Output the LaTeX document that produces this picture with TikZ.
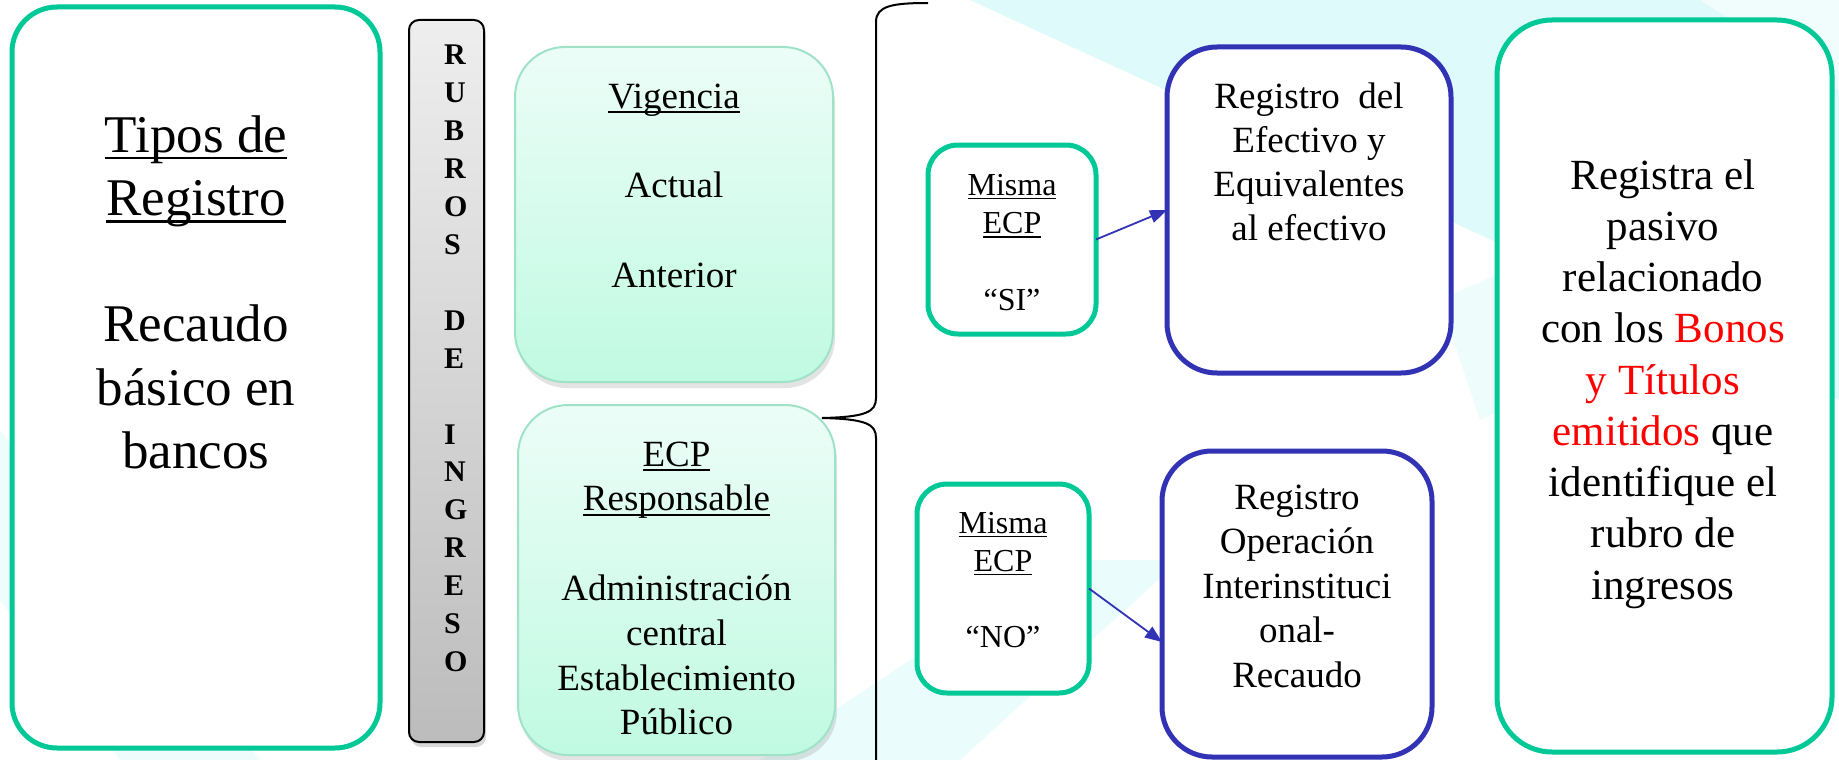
\documentclass[tikz,border=0pt]{standalone}
\usepackage{fontspec}
\setmainfont{Liberation Serif}
\usetikzlibrary{arrows.meta,shadows,calc}
\definecolor{grn}{RGB}{0,200,150}
\definecolor{blu}{RGB}{50,50,180}
\definecolor{minttop}{RGB}{236,253,247}
\definecolor{mintbot}{RGB}{192,250,226}
\definecolor{mintline}{RGB}{160,226,200}
\definecolor{bgcyan}{RGB}{222,250,250}
\definecolor{bartop}{RGB}{238,238,238}
\definecolor{barbot}{RGB}{188,188,188}
\newcommand\ul[1]{\setbox0\hbox{#1}\rlap{\rule[-0.14em]{\wd0}{0.05em}}\box0}
\newcommand\fsz[2]{\fontsize{#1pt}{#2pt}\selectfont}
\tikzset{
  box/.style={rectangle, inner sep=0pt, outer sep=0pt},
  greenbox/.style={box, draw=grn, line width=5pt, fill=white, rounded corners=#1},
  greenbox/.default=40pt,
  bluebox/.style={box, draw=blu, line width=5pt, fill=white, rounded corners=50pt},
  mintbox/.style={box, draw=mintline, line width=2pt, top color=minttop, bottom color=mintbot,
     rounded corners=50pt, drop shadow={shadow xshift=2pt, shadow yshift=-6pt, opacity=0.22}},
  graybar/.style={box, draw=black, line width=2pt, top color=bartop, bottom color=barbot,
     rounded corners=10pt, drop shadow={shadow xshift=2pt, shadow yshift=-5pt, opacity=0.3}},
  txt/.style={anchor=base, inner sep=0pt, font=\fsz{#1}{#1}},
  bartxt/.style={anchor=base west, inner sep=0pt, font=\fsz{30}{30}\bfseries},
  arr/.style={draw=blu, line width=1.8pt, -{Triangle[length=17pt,width=13pt]}},
  brace/.style={draw=black, line width=2pt}
}
\begin{document}
\begin{tikzpicture}[x=1pt,y=-1pt]
\useasboundingbox (0,0) rectangle (1839,760);
% background
\fill[white] (0,0) rectangle (1839,760);
\fill[bgcyan] (970,0) -- (1839,0) -- (1839,400) -- cycle;
\fill[white,opacity=0.6] (1560,0) -- (1839,0) -- (1839,90) -- (1700,0) -- cycle;
\fill[bgcyan,opacity=0.5] (0,430) -- (260,760) -- (120,760) -- (0,600) -- cycle;
\fill[bgcyan,opacity=0.6] (760,760) -- (1060,560) -- (1180,560) -- (960,760) -- cycle;
\fill[bgcyan,opacity=0.5] (1440,300) -- (1839,120) -- (1839,260) -- (1480,420) -- cycle;

% boxes
\node[greenbox=45pt, minimum width=368pt, minimum height=741pt] (tipos) at (196,377.5) {};
\node[graybar, minimum width=75pt, minimum height=722pt] (bar) at (446.5,381) {};
\node[mintbox, minimum width=318pt, minimum height=335pt] (vig) at (674,214.5) {};
\node[mintbox, minimum width=317pt, minimum height=350pt] (ecp) at (676.5,580) {};
\node[greenbox=30pt, minimum width=168pt, minimum height=189pt] (si) at (1012,239.5) {};
\node[greenbox=30pt, minimum width=172pt, minimum height=209pt] (no) at (1003,588.5) {};
\node[bluebox, minimum width=284pt, minimum height=326pt] (reg1) at (1309,210) {};
\node[bluebox, minimum width=270pt, minimum height=306pt] (reg2) at (1297,604) {};
\node[greenbox=55pt, minimum width=335pt, minimum height=732pt] (pas) at (1664.5,386) {};

% brace
\coordinate (bt) at (928,3);
\coordinate (btip) at (822,418);
\coordinate (bb) at (876,765);
\draw[brace] (bt) .. controls (892,3) and (876,6) .. (876,22) -- (876,398)
   .. controls (876,412) and (866,417) .. (btip)
   .. controls (866,419) and (876,424) .. (876,438) -- (bb);

% arrows
\draw[arr] (si.east) -- (reg1.west);
\draw[arr] (no.east) -- ($(reg2.west)+(0,38)$);

% texts
\foreach \k/\t in {0/{\ul{Tipos de}},1/{\ul{Registro}},3/Recaudo,4/{básico en},5/bancos}
  \node[txt=53] (tt-\k) at (196,152+\k*63.3) {\t};
\foreach \k/\t in {0/R,1/U,2/B,3/R,4/O,5/S,7/D,8/E,10/I,11/N,12/G,13/R,14/E,15/S,16/O}
  \node[bartxt] (bl-\k) at (444,65+\k*37.9) {\t};
\foreach \k/\t in {0/{\ul{Vigencia}},2/Actual,4/Anterior}
  \node[txt=37] (vt-\k) at (674,108+\k*44.75) {\t};
\foreach \k/\t in {0/{\ul{ECP}},1/{\ul{Responsable}},3/Administración,4/central,5/Establecimiento,6/Público}
  \node[txt=37] (et-\k) at (676.5,466+\k*44.8) {\t};
\foreach \k/\t in {0/{\ul{Misma}},1/{\ul{ECP}},3/“SI”}
  \node[txt=32] (st-\k) at (1012,195+\k*38.4) {\t};
\foreach \k/\t in {0/{\ul{Misma}},1/{\ul{ECP}},3/“NO”}
  \node[txt=32] (nt-\k) at (1003,533+\k*38) {\t};
\foreach \k/\t in {0/{Registro\ \ del},1/{Efectivo y},2/Equivalentes,3/{al efectivo}}
  \node[txt=37] (rt-\k) at (1309,108+\k*44.3) {\t};
\foreach \k/\t in {0/Registro,1/Operación,2/Interinstituci,3/onal-,4/Recaudo}
  \node[txt=37] (qt-\k) at (1297,509+\k*44.5) {\t};
\foreach \k/\t in {0/{Registra el},1/pasivo,2/relacionado,3/{con los \textcolor{red}{Bonos}},4/{\textcolor{red}{y Títulos}},5/{\textcolor{red}{emitidos} que},6/{identifique el},7/{rubro de},8/ingresos}
  \node[txt=43] (pt-\k) at (1663,189+\k*51.25) {\t};
\end{tikzpicture}
\end{document}
